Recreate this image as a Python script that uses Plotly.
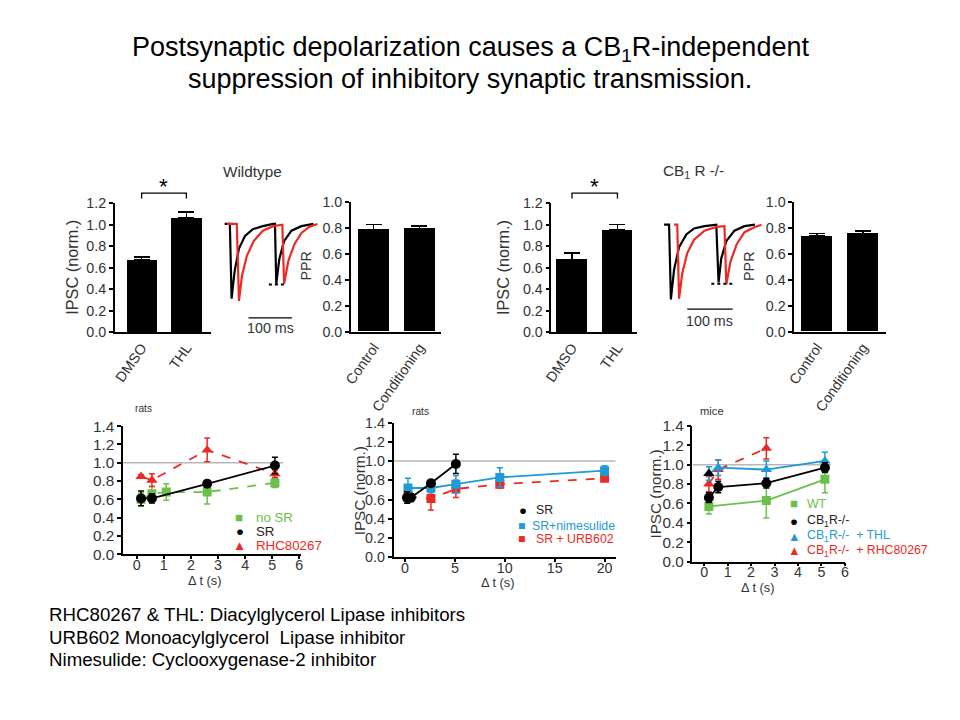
import plotly.graph_objects as go

W, H = 960, 720
# calibration of the rendered page against the reference picture
S, OX, OY = 0.979, 10.0, 7.0
FONT = "Liberation Sans, Arial, sans-serif"
RED = "#ec2a24"
GREEN = "#6cc04a"
BLUE = "#1f9ad6"
GRAY_TXT = "#333333"

# ---------------- data ----------------
ipsc_cats = ["DMSO", "THL"]
ppr_cats = ["Control", "Conditioning"]
wt_ipsc_vals = [0.67, 1.06]
wt_ipsc_err = [0.03, 0.06]
wt_ppr_vals = [0.79, 0.80]
wt_ppr_err = [0.04, 0.02]
cb_ipsc_vals = [0.675, 0.95]
cb_ipsc_err = [0.06, 0.05]
cb_ppr_vals = [0.74, 0.76]
cb_ppr_err = [0.02, 0.02]

# example IPSC traces (time in ms, amplitude normalised to first peak)
wt_black_t = [-14, -2, 2, 9, 19, 33, 51, 74, 98, 102, 105, 112, 123, 140, 163, 191]
wt_black_v = [0, 0, -1.0, -0.63, -0.33, -0.16, -0.07, -0.03, 0, 0, -0.8, -0.47, -0.23, -0.09, -0.03, 0]
wt_red_t = [-9, 14, 19, 26, 37, 53, 74, 98, 119, 123, 133, 147, 163, 181, 200]
wt_red_v = [0, 0, -1.03, -0.69, -0.43, -0.23, -0.09, -0.03, -0.01, -0.8, -0.49, -0.27, -0.12, -0.04, 0]
wt_dot_t = [88, 128]
wt_dot_v = [-0.81, -0.81]
wt_bar_t = [41, 141]
wt_bar_v = [-1.256, -1.256]

cb_black_t = [-13, -2, 2, 9, 20, 36, 53, 76, 102, 107, 113, 124, 142, 164, 187]
cb_black_v = [0, 0, -1.0, -0.6, -0.3, -0.13, -0.05, -0.02, 0, -0.77, -0.45, -0.22, -0.08, -0.02, 0]
cb_red_t = [9, 16, 20, 27, 38, 53, 76, 102, 120, 124, 133, 147, 164, 187, 202]
cb_red_v = [0, 0, -0.99, -0.65, -0.38, -0.2, -0.08, -0.03, -0.02, -0.8, -0.5, -0.26, -0.1, -0.03, 0]
cb_dot_t = [91, 138]
cb_dot_v = [-0.79, -0.79]
cb_bar_t = [38, 138]
cb_bar_v = [-1.13, -1.13]

# bottom-left (rats)
c1_nosr_x = [0.16, 0.56, 1.09, 2.6, 5.1]
c1_nosr_y = [0.60, 0.66, 0.68, 0.68, 0.78]
c1_nosr_err = [0.07, 0.08, 0.09, 0.13, 0.05]
c1_sr_x = [0.16, 0.56, 2.6, 5.1]
c1_sr_y = [0.61, 0.61, 0.77, 0.97]
c1_sr_err = [0.08, 0.05, 0.03, 0.09]
c1_rhc_x = [0.16, 0.56, 2.6, 5.1]
c1_rhc_y = [0.85, 0.81, 1.14, 0.88]
c1_rhc_err = [0.02, 0.07, 0.13, 0.04]

# bottom-middle (rats)
c2_sr_x = [0.2, 0.6, 2.6, 5.1]
c2_sr_y = [0.62, 0.62, 0.77, 0.97]
c2_sr_err = [0.06, 0.04, 0.03, 0.10]
c2_nim_x = [0.3, 2.6, 5.1, 9.5, 20]
c2_nim_y = [0.72, 0.72, 0.76, 0.83, 0.90]
c2_nim_err = [0.10, 0.05, 0.09, 0.10, 0.05]
c2_urb_x = [0.3, 2.6, 5.1, 9.5, 20]
c2_urb_y = [0.63, 0.61, 0.71, 0.76, 0.82]
c2_urb_err = [0.06, 0.12, 0.09, 0.04, 0.03]

# bottom-right (mice)
c3_wt_x = [0.2, 2.65, 5.15]
c3_wt_y = [0.57, 0.63, 0.85]
c3_wt_err = [0.08, 0.18, 0.14]
c3_ko_x = [0.2, 0.6, 2.65, 5.15]
c3_ko_y = [0.66, 0.77, 0.81, 0.97]
c3_ko_err = [0.05, 0.06, 0.05, 0.05]
c3_thl_x = [0.2, 0.6, 2.65, 5.15]
c3_thl_y = [0.91, 0.97, 0.95, 1.04]
c3_thl_err = [0.07, 0.08, 0.09, 0.09]
c3_rhc_x = [0.2, 0.6, 2.65]
c3_rhc_y = [0.80, 0.95, 1.17]
c3_rhc_err = [0.08, 0.10, 0.11]

ipsc_ticks = [0.0, 0.2, 0.4, 0.6, 0.8, 1.0, 1.2]
ppr_ticks = [0.0, 0.2, 0.4, 0.6, 0.8, 1.0]
time_ticks_short = [0, 1, 2, 3, 4, 5, 6]
time_ticks_long = [0, 5, 10, 15, 20]
bottom_yticks = [0.0, 0.2, 0.4, 0.6, 0.8, 1.0, 1.2, 1.4]


# ---------------- helpers ----------------
def ix(p):
    return (p - OX) / S


def iy(p):
    return (p - OY) / S


def fs(s):
    return round(s / S, 1)


def dx(p0, p1):
    return [ix(p0) / W, ix(p1) / W]


def dy(top, bottom):
    return [1 - iy(bottom) / H, 1 - iy(top) / H]


def px(p):
    return ix(p) / W


def py(p):
    return 1 - iy(p) / H


def yaxis(top, bottom, rng, tickvals, anchor, size):
    return dict(domain=dy(top, bottom), range=rng, anchor=anchor, showline=True,
                linecolor="black", linewidth=1.5, ticks="outside", ticklen=4,
                tickwidth=1.5, tickcolor="black", tickvals=tickvals,
                tickformat=".1f", showgrid=False, zeroline=False,
                tickfont=dict(size=fs(size), color=GRAY_TXT, family=FONT))


def xaxis_cat(x0, x1, rng, anchor):
    return dict(domain=dx(x0, x1), range=rng, anchor=anchor, showline=True,
                linecolor="black", linewidth=1.5, ticks="", tickangle=-55,
                showgrid=False, zeroline=False,
                tickfont=dict(size=fs(14), color=GRAY_TXT, family=FONT))


def xaxis_num(x0, x1, rng, tickvals, anchor):
    return dict(domain=dx(x0, x1), range=rng, anchor=anchor, showline=True,
                linecolor="black", linewidth=1.5, ticks="outside", ticklen=3,
                tickwidth=1.5, tickcolor="black", tickvals=tickvals,
                ticklabelstandoff=-6,
                showgrid=False, zeroline=False,
                tickfont=dict(size=fs(14), color=GRAY_TXT, family=FONT))


def hidden(domain, rng, anchor):
    return dict(domain=domain, range=rng, visible=False, showgrid=False,
                zeroline=False, anchor=anchor)


fig = go.Figure()


def bars(cats, vals, err, xa, ya):
    fig.add_trace(go.Bar(x=cats, y=vals, width=0.68, marker=dict(color="black", line=dict(width=0)),
                         error_y=dict(type="data", array=err, arrayminus=[0] * len(err),
                                      color="black", thickness=1.5, width=8),
                         xaxis=xa, yaxis=ya, showlegend=False))


def trace_line(t, v, color, xa, ya, dash="solid", w=2.2):
    fig.add_trace(go.Scatter(x=t, y=v, mode="lines", line=dict(color=color, width=w, dash=dash),
                             xaxis=xa, yaxis=ya, showlegend=False, hoverinfo="skip"))


def series(x, y, err, color, symbol, dash, xa, ya, size=10, mcolor=None):
    fig.add_trace(go.Scatter(x=x, y=y, mode="lines", line=dict(color=color, width=1.8, dash=dash),
                             xaxis=xa, yaxis=ya, showlegend=False, hoverinfo="skip"))
    fig.add_trace(go.Scatter(x=x, y=y, mode="markers",
                             marker=dict(color=mcolor if mcolor else color, symbol=symbol, size=size,
                                         line=dict(width=0)),
                             error_y=dict(type="data", array=err, color=color, thickness=1.5, width=3),
                             xaxis=xa, yaxis=ya, showlegend=False))


# top row
bars(ipsc_cats, wt_ipsc_vals, wt_ipsc_err, "x", "y")
trace_line(wt_black_t, wt_black_v, "black", "x2", "y2")
trace_line(wt_red_t, wt_red_v, RED, "x2", "y2")
trace_line(wt_dot_t, wt_dot_v, "black", "x2", "y2", dash="dot", w=2)
trace_line(wt_bar_t, wt_bar_v, "black", "x2", "y2", w=1.3)
bars(ppr_cats, wt_ppr_vals, wt_ppr_err, "x3", "y3")

bars(ipsc_cats, cb_ipsc_vals, cb_ipsc_err, "x4", "y4")
trace_line(cb_black_t, cb_black_v, "black", "x5", "y5")
trace_line(cb_red_t, cb_red_v, RED, "x5", "y5")
trace_line(cb_dot_t, cb_dot_v, "black", "x5", "y5", dash="dot", w=2)
trace_line(cb_bar_t, cb_bar_v, "black", "x5", "y5", w=1.3)
bars(ppr_cats, cb_ppr_vals, cb_ppr_err, "x6", "y6")

# bottom-left
series(c1_nosr_x, c1_nosr_y, c1_nosr_err, GREEN, "square", "dash", "x7", "y7", size=9)
series(c1_rhc_x, c1_rhc_y, c1_rhc_err, RED, "triangle-up", "dash", "x7", "y7")
series(c1_sr_x, c1_sr_y, c1_sr_err, "black", "circle", "solid", "x7", "y7")
# bottom-middle
series(c2_urb_x, c2_urb_y, c2_urb_err, RED, "square", "dash", "x8", "y8", size=9)
series(c2_nim_x, c2_nim_y, c2_nim_err, BLUE, "square", "solid", "x8", "y8", size=9)
series(c2_sr_x, c2_sr_y, c2_sr_err, "black", "circle", "solid", "x8", "y8")
# bottom-right
series(c3_rhc_x, c3_rhc_y, c3_rhc_err, RED, "triangle-up", "dash", "x9", "y9")
series(c3_thl_x, c3_thl_y, c3_thl_err, BLUE, "triangle-up", "solid", "x9", "y9",
       mcolor=["black"] + [BLUE] * (len(c3_thl_x) - 1))
series(c3_wt_x, c3_wt_y, c3_wt_err, GREEN, "square", "solid", "x9", "y9", size=9)
series(c3_ko_x, c3_ko_y, c3_ko_err, "black", "circle", "solid", "x9", "y9")

layout = dict(
    width=W, height=H, margin=dict(l=0, r=0, t=0, b=0),
    paper_bgcolor="white", plot_bgcolor="white", showlegend=False,
    font=dict(family=FONT, color=GRAY_TXT),
    bargap=0,
    xaxis=xaxis_cat(115, 210, [-0.6, 1.54], "y"),
    yaxis=yaxis(201.7, 331, [0, 1.2], ipsc_ticks, "x", 14),
    xaxis2=hidden(dx(218, 320), [-28, 209], "y2"),
    yaxis2=hidden(dy(215, 335), [-1.5, 0.1], "x2"),
    xaxis3=xaxis_cat(349.3, 439, [-0.5, 1.48], "y3"),
    yaxis3=yaxis(201, 330.7, [0, 1.0], ppr_ticks, "x3", 14),
    xaxis4=xaxis_cat(548.3, 633, [-0.453, 1.425], "y4"),
    yaxis4=yaxis(201.7, 331, [0, 1.2], ipsc_ticks, "x4", 14),
    xaxis5=hidden(dx(655, 757), [-24.4, 202], "y5"),
    yaxis5=hidden(dy(215, 335), [-1.49, 0.11], "x5"),
    xaxis6=xaxis_cat(789.3, 880, [-0.5, 1.5], "y6"),
    yaxis6=yaxis(201, 330.7, [0, 1.0], ppr_ticks, "x6", 14),
    xaxis7=xaxis_num(123.3, 300, [-0.5, 6.07], time_ticks_short, "y7"),
    yaxis7=yaxis(425.3, 553.7, [0, 1.4], bottom_yticks, "x7", 15),
    xaxis8=xaxis_num(391.7, 612, [-1.14, 21.1], time_ticks_long, "y8"),
    yaxis8=yaxis(421.7, 556.7, [0, 1.4], bottom_yticks, "x8", 14),
    xaxis9=xaxis_num(688.3, 840, [-0.5, 6.02], time_ticks_short, "y9"),
    yaxis9=yaxis(425.2, 561, [0, 1.4], bottom_yticks, "x9", 15),
)

shapes = []
for xa, ya, x0, x1 in [("x7", "y7", -0.5, 5.4), ("x8", "y8", -1.14, 21.1), ("x9", "y9", -0.5, 5.4)]:
    shapes.append(dict(type="line", xref=xa, yref=ya, x0=x0, x1=x1, y0=1.0, y1=1.0,
                       line=dict(color="#b8b8b8", width=1.5), layer="below"))
for xa in ["x", "x4"]:
    shapes.append(dict(type="path", xref=xa, yref="paper",
                       path=f"M 0,{py(197)} L 0,{py(191.7)} L 1,{py(191.7)} L 1,{py(197)}",
                       line=dict(color="black", width=1.3)))
layout["shapes"] = shapes

ann = []


def text(x, y, s, size=13, color=GRAY_TXT, xanchor="center", angle=0, xref="paper", yref="paper"):
    ann.append(dict(x=x, y=y, xref=xref, yref=yref, text=s, showarrow=False,
                    xanchor=xanchor, yanchor="middle", textangle=angle,
                    font=dict(size=fs(size), color=color, family=FONT)))


# title
text(px(468), py(47), "Postsynaptic depolarization causes a CB<sub>1</sub>R-independent", size=26.4, color="black")
text(px(468), py(77), "suppression of inhibitory synaptic transmission.", size=26.4, color="black")
# panel labels
text(px(252), py(170), "Wildtype", size=15)
text(px(689), py(170), "CB<sub>1</sub> R -/-", size=15)
text(0.5, py(185), "*", size=22, color="black", xref="x")
text(0.5, py(185), "*", size=22, color="black", xref="x4")
# y titles
text(px(73), py(266), "IPSC (norm.)", size=16, angle=-90)
text(px(305), py(265), "PPR", size=14, angle=-90)
text(px(501), py(266), "IPSC (norm.)", size=16, angle=-90)
text(px(745), py(265), "PPR", size=14, angle=-90)
text(px(358), py(490), "IPSC (norm.)", size=15, angle=-90)
text(px(652), py(493), "IPSC (norm.)", size=15, angle=-90)
# scale bars
text(91, -1.39, "100 ms", size=14, xref="x2", yref="y2")
text(88, -1.29, "100 ms", size=14, xref="x5", yref="y5")
# small labels
text(px(143), py(408), "rats", size=10)
text(px(418), py(411), "rats", size=10)
text(px(708), py(410), "mice", size=11)
# x titles
text(px(204), py(580), "Δ t (s)", size=12.5)
text(px(495), py(582.5), "Δ t (s)", size=12.5)
text(px(753), py(587), "Δ t (s)", size=12.5)

# legends: (glyph x, glyph y, glyph, colour, text x, label, glyph size, text size)
leg = [
    (238.5, 516.7, "■", GREEN, 253, "no SR", 13, 13),
    (239.5, 530.7, "●", "black", 253, "SR", 13, 13),
    (238.5, 545.0, "▲", RED, 253, "RHC80267", 13, 13),
    (520, 509.5, "●", "black", 531, "SR", 13, 12),
    (519, 525.5, "■", BLUE, 527, "SR+nimesulide", 12, 12),
    (519, 538.5, "■", RED, 531, "SR + URB602", 12, 12),
    (789.3, 503.3, "■", GREEN, 800, "WT", 13, 12),
    (789.3, 520.5, "●", "black", 800, "CB<sub>1</sub>R-/-", 13, 12),
    (789.3, 535.5, "▲", BLUE, 800, "CB<sub>1</sub>R-/-  + THL", 12.5, 12),
    (789.3, 550.0, "▲", RED, 800, "CB<sub>1</sub>R-/-  + RHC80267", 12.5, 12),
]
for gx, gy, glyph, col, tx, label, gs, ts in leg:
    text(px(gx), py(gy), glyph, size=gs, color=col)
    text(px(tx), py(gy), label, size=ts, color=col if col != "black" else "#222222", xanchor="left")

# footnotes
text(px(48), py(614), "RHC80267 & THL: Diacylglycerol Lipase inhibitors", size=18.3, color="black", xanchor="left")
text(px(48), py(637), "URB602 Monoacylglycerol  Lipase inhibitor", size=18.3, color="black", xanchor="left")
text(px(48), py(659), "Nimesulide: Cyclooxygenase-2 inhibitor", size=18.3, color="black", xanchor="left")

layout["annotations"] = ann
fig.update_layout(**layout)
fig.write_html("out.html", config={"displayModeBar": False},
               post_script="document.body.style.margin='0px';document.body.style.overflow='hidden';")
